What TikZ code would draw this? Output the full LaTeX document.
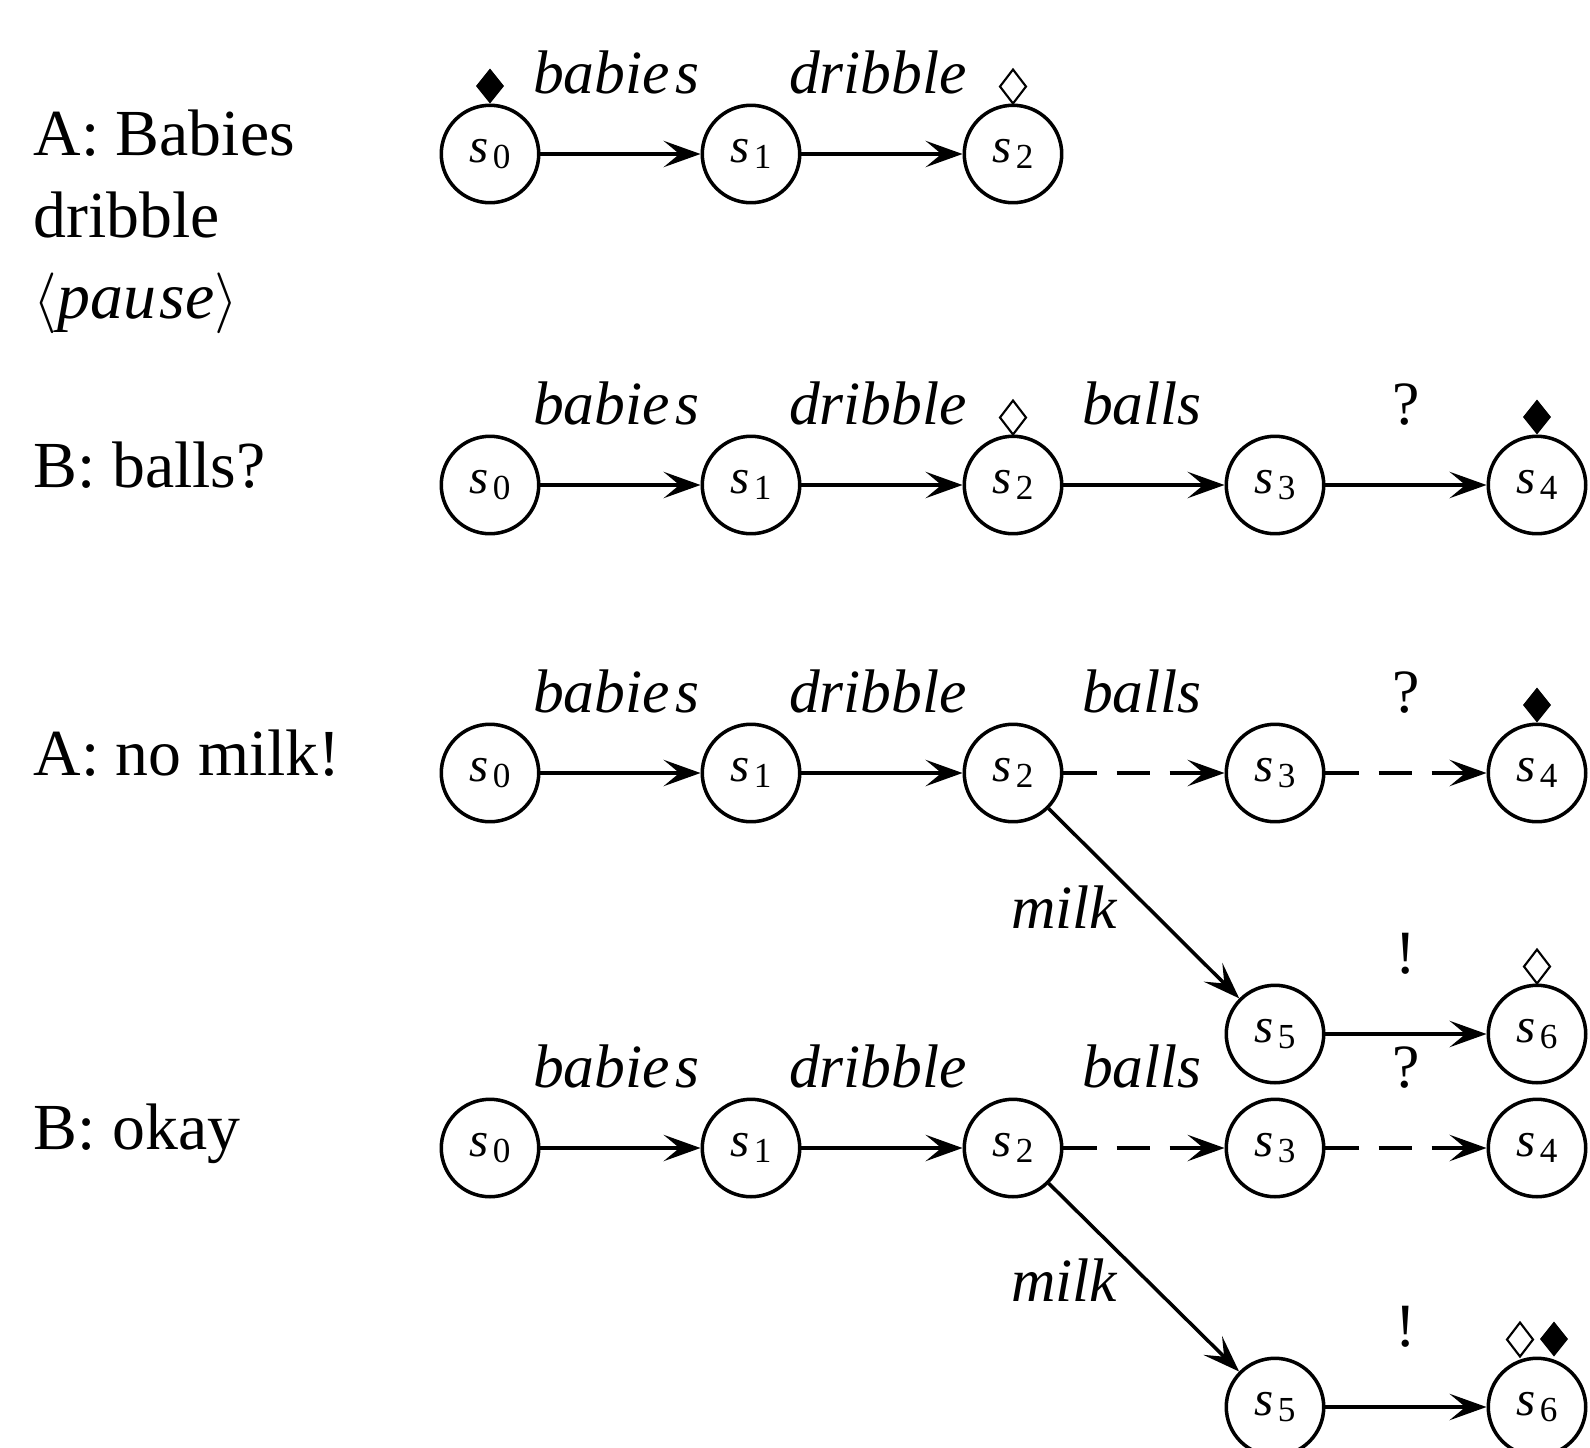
\documentclass[tikz,border=0pt]{standalone}
\usepackage{fontspec}
\setmainfont{Liberation Serif}
\usetikzlibrary{arrows.meta}
\newcommand\sn[1]{\fontsize{14}{14}\selectfont\textit{s}\kern1.2pt\raisebox{-1.7pt}{\fontsize{10}{10}\selectfont #1}}
\newcommand\fdia[2][0]{\fill (#2.north) ++(#1,0) -- ++(14,-17.5) -- ++(-14,-17.5) -- ++(-14,17.5) -- cycle;}
\newcommand\odia[2][0]{\draw[line width=0.6pt] (#2.north) ++(#1,0) -- ++(13,-17) -- ++(-13,-17) -- ++(-13,17) -- cycle;}
\begin{document}
\begin{tikzpicture}[x=0.01cm,y=-0.01cm,
 st/.style={circle, draw, line width=1pt, minimum size=9.74mm, inner sep=0pt},
 tr/.style={-{Stealth[length=10.5pt,width=7.5pt,inset=4.5pt]}, line width=1pt},
 dsh/.style={tr, dash pattern=on 3.3mm off 2mm},
 lab/.style={anchor=base, inner sep=0pt, font=\fontsize{17.5}{20}\selectfont\itshape},
 plab/.style={anchor=base, inner sep=0pt, font=\fontsize{17.5}{20}\selectfont},
 spk/.style={anchor=base west, inner sep=0pt, font=\fontsize{18.7}{23}\selectfont}]
\path[use as bounding box] (0,0) rectangle (1590,1448);

% speaker labels
\node[spk] (ta1) at (33,155) {A: Babies};
\node[spk] (ta2) at (33,237) {dribble};
\node[spk] (ta3) at (33,318) {$\langle$\textit{pau\kern1pt se}$\rangle$};
\node[spk] (tb) at (33,487) {B: balls?};
\node[spk] (tc) at (33,775) {A: no milk!};
\node[spk] (td) at (33,1149) {B: okay};

% row 1
\node[st] (a0) at (490,154) {\sn0};
\node[st] (a1) at (751,154) {\sn1};
\node[st] (a2) at (1013,154) {\sn2};
\draw[tr] (a0) -- (a1);
\draw[tr] (a1) -- (a2);
\node[lab] (la1) at (616,93) {babie\kern1.5pt s};
\node[lab] (la2) at (878,93) {dribble};
\fdia{a0}
\odia{a2}

% row 2
\node[st] (b0) at (490,485) {\sn0};
\node[st] (b1) at (751,485) {\sn1};
\node[st] (b2) at (1013,485) {\sn2};
\node[st] (b3) at (1275,485) {\sn3};
\node[st] (b4) at (1537,485) {\sn4};
\draw[tr] (b0) -- (b1);
\draw[tr] (b1) -- (b2);
\draw[tr] (b2) -- (b3);
\draw[tr] (b3) -- (b4);
\node[lab] (lb1) at (616,424) {babie\kern1.5pt s};
\node[lab] (lb2) at (878,424) {dribble};
\node[lab] (lb3) at (1142,424) {balls};
\node[plab] (lb4) at (1406,424) {?};
\odia{b2}
\fdia{b4}

% row 3
\node[st] (c0) at (490,773) {\sn0};
\node[st] (c1) at (751,773) {\sn1};
\node[st] (c2) at (1013,773) {\sn2};
\node[st] (c3) at (1275,773) {\sn3};
\node[st] (c4) at (1537,773) {\sn4};
\node[st] (c5) at (1275,1034) {\sn5};
\node[st] (c6) at (1537,1034) {\sn6};
\draw[tr] (c0) -- (c1);
\draw[tr] (c1) -- (c2);
\draw[dsh] (c2) -- (c3);
\draw[dsh] (c3) -- (c4);
\draw[tr] (c2) -- (c5);
\draw[tr] (c5) -- (c6);
\node[lab] (lc1) at (616,712) {babie\kern1.5pt s};
\node[lab] (lc2) at (878,712) {dribble};
\node[lab] (lc3) at (1142,712) {balls};
\node[plab] (lc4) at (1406,712) {?};
\node[lab] (lc5) at (1064,928) {milk};
\node[plab] (lc6) at (1406,973) {!};
\fdia{c4}
\odia{c6}

% row 4
\node[st] (d0) at (490,1148) {\sn0};
\node[st] (d1) at (751,1148) {\sn1};
\node[st] (d2) at (1013,1148) {\sn2};
\node[st] (d3) at (1275,1148) {\sn3};
\node[st] (d4) at (1537,1148) {\sn4};
\node[st] (d5) at (1275,1407) {\sn5};
\node[st] (d6) at (1537,1407) {\sn6};
\draw[tr] (d0) -- (d1);
\draw[tr] (d1) -- (d2);
\draw[dsh] (d2) -- (d3);
\draw[dsh] (d3) -- (d4);
\draw[tr] (d2) -- (d5);
\draw[tr] (d5) -- (d6);
\node[lab] (ld1) at (616,1087) {babie\kern1.5pt s};
\node[lab] (ld2) at (878,1087) {dribble};
\node[lab] (ld3) at (1142,1087) {balls};
\node[plab] (ld4) at (1406,1087) {?};
\node[lab] (ld5) at (1064,1301) {milk};
\node[plab] (ld6) at (1406,1346) {!};
\odia[-17]{d6}
\fdia[17]{d6}
\end{tikzpicture}
\end{document}
